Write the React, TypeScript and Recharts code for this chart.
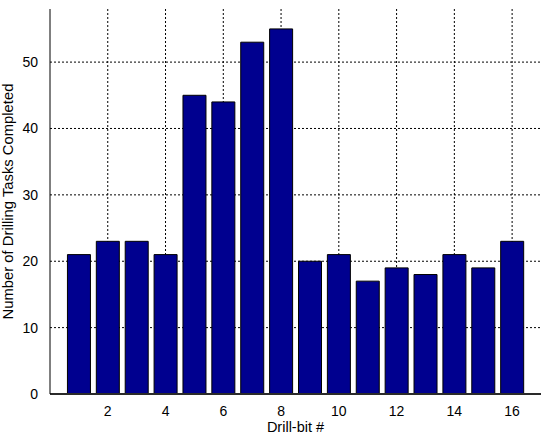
import { BarChart, Bar, XAxis, YAxis, CartesianGrid, Label, ReferenceLine } from "recharts";

const drillBits = [1, 2, 3, 4, 5, 6, 7, 8, 9, 10, 11, 12, 13, 14, 15, 16];
const tasksCompleted = [21, 23, 23, 21, 45, 44, 53, 55, 20, 21, 17, 19, 18, 21, 19, 23];
const xTicks = [2, 4, 6, 8, 10, 12, 14, 16];
const yTicks = [0, 10, 20, 30, 40, 50];

const data = drillBits.map((bit, i) => ({ bit, tasks: tasksCompleted[i] }));

const font = "Arial, 'Liberation Sans', Helvetica, sans-serif";
const tickStyle = { fontSize: 14, fill: "#000", fontFamily: font };

export default function App() {
  return (
    <div style={{ position: "absolute", left: 0, top: 0, background: "#fff" }}>
      <BarChart
        width={550}
        height={440}
        data={data}
        margin={{ top: 9, right: 9, left: 0, bottom: 16 }}
      >
        <CartesianGrid
          stroke="#000"
          strokeDasharray="2 2"
          horizontalValues={yTicks}
          verticalValues={xTicks}
        />
        <XAxis
          dataKey="bit"
          type="number"
          domain={[0, 17]}
          ticks={xTicks}
          allowDecimals={false}
          height={30}
          stroke="#000"
          tickLine={false}
          tickMargin={6}
          tick={tickStyle}
        >
          <Label
            value="Drill-bit #"
            position="insideBottom"
            offset={-8}
            style={{ fontSize: 14.5, fill: "#000", fontFamily: font }}
          />
        </XAxis>
        <XAxis xAxisId="top" orientation="top" dataKey="bit" type="number" domain={[0, 17]} height={0} tick={false} tickLine={false} stroke="#000" />
        <YAxis
          domain={[0, 58]}
          ticks={yTicks}
          width={50}
          stroke="#000"
          tickLine={false}
          tickMargin={6}
          tick={tickStyle}
        >
          <Label
            value="Number of Drilling Tasks Completed"
            angle={-90}
            position="insideLeft"
            offset={8}
            style={{ fontSize: 14.8, fill: "#000", fontFamily: font, textAnchor: "middle" }}
          />
        </YAxis>
        <YAxis yAxisId="right" orientation="right" domain={[0, 58]} width={0} tick={false} tickLine={false} stroke="#000" />
        <Bar
          dataKey="tasks"
          fill="#00008f"
          stroke="#000"
          strokeWidth={1}
          barSize={23}
          isAnimationActive={false}
        />
        <ReferenceLine y={0} stroke="#555" strokeWidth={2} />
      </BarChart>
    </div>
  );
}
